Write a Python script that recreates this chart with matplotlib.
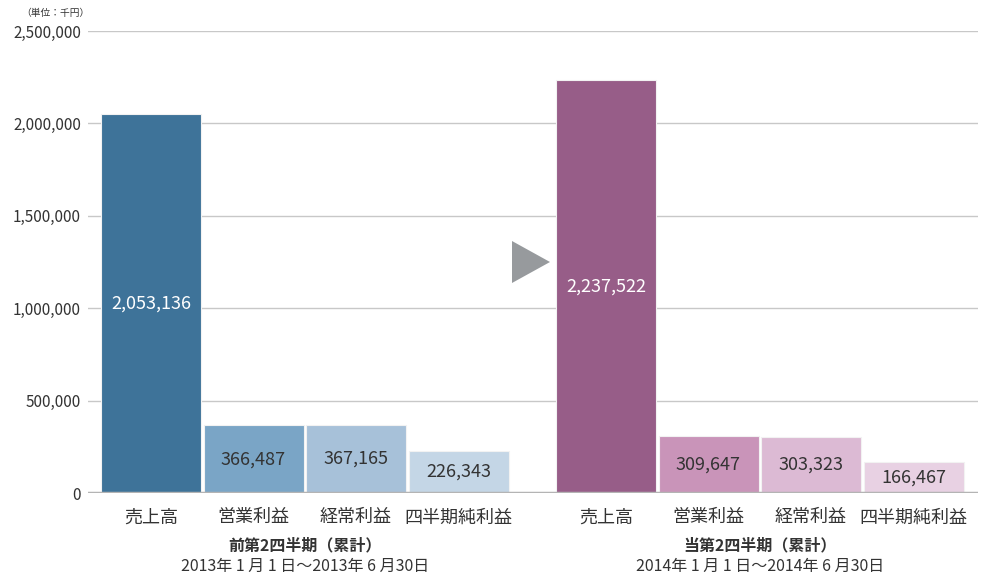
import matplotlib
matplotlib.use("Agg")
import matplotlib.pyplot as plt
from matplotlib.patches import Polygon
from matplotlib.transforms import blended_transform_factory

plt.rcParams['font.family'] = ['Noto Sans CJK JP', 'DejaVu Sans']

categories = ["売上高", "営業利益", "経常利益", "四半期純利益"]
prev_values = [2053136, 366487, 367165, 226343]
curr_values = [2237522, 309647, 303323, 166467]
prev_labels = ["2,053,136", "366,487", "367,165", "226,343"]
curr_labels = ["2,237,522", "309,647", "303,323", "166,467"]
prev_title = "前第2四半期（累計）"
prev_period = "2013年 1 月 1 日～2013年 6 月30日"
curr_title = "当第2四半期（累計）"
curr_period = "2014年 1 月 1 日～2014年 6 月30日"
yticks = [0, 500000, 1000000, 1500000, 2000000, 2500000]
ytick_labels = ["0", "500,000", "1,000,000", "1,500,000", "2,000,000", "2,500,000"]
unit_label = "（単位：千円）"

prev_colors = ["#3e7399", "#7aa5c6", "#a7c1d9", "#c4d6e6"]
curr_colors = ["#975d88", "#c994b9", "#dcbad4", "#e8d1e3"]
text_dark = "#333333"

fig = plt.figure(figsize=(9.85, 5.76), dpi=100)
ax = fig.add_axes([88/985, 1-493/576, (978-88)/985, (493-31)/576])

unit = 102.5
pos_prev = [0, 1, 2, 3]
offset = (606-151)/unit
pos_curr = [p + offset for p in pos_prev]
width = 100/unit

ax.set_xlim((88-151)/unit, (978-151)/unit)
ax.set_ylim(0, 2500000)

for y in yticks[1:]:
    ax.axhline(y, color="#c8c8c8", lw=1.0, zorder=0)

for pos, vals, cols, labs in [(pos_prev, prev_values, prev_colors, prev_labels),
                              (pos_curr, curr_values, curr_colors, curr_labels)]:
    bars = ax.bar(pos, vals, width=width, color=cols, edgecolor="#f2f2f2", linewidth=0.8, zorder=2)
    for i, (b, v, l) in enumerate(zip(bars, vals, labs)):
        c = "white" if i == 0 else text_dark
        ax.text(b.get_x() + b.get_width()/2, v/2, l, ha="center", va="center",
                fontsize=13, color=c, zorder=3)

ax.axhline(0, color="#b4b4b4", lw=2.5, zorder=4)

ax.set_yticks(yticks)
ax.set_yticklabels(ytick_labels, fontsize=11, color=text_dark)
ax.tick_params(axis="y", length=0, pad=5)
ax.set_xticks(pos_prev + pos_curr)
ax.set_xticklabels(categories + categories, fontsize=13, color=text_dark)
ax.tick_params(axis="x", length=0, pad=11)
for s in ax.spines.values():
    s.set_visible(False)

tr = blended_transform_factory(ax.transData, fig.transFigure)
cx_prev = (pos_prev[0] + pos_prev[-1]) / 2
cx_curr = (pos_curr[0] + pos_curr[-1]) / 2
ax.text(cx_prev, 1-545/576, prev_title, transform=tr, ha="center", va="center",
        fontsize=11.5, fontweight="bold", color=text_dark)
ax.text(cx_prev, 1-566/576, prev_period, transform=tr, ha="center", va="center",
        fontsize=11.5, color=text_dark)
ax.text(cx_curr, 1-545/576, curr_title, transform=tr, ha="center", va="center",
        fontsize=11.5, fontweight="bold", color=text_dark)
ax.text(cx_curr, 1-566/576, curr_period, transform=tr, ha="center", va="center",
        fontsize=11.5, color=text_dark)

fig.text(21/985, 1-13/576, unit_label, fontsize=7, color=text_dark, ha="left", va="center")

tri = Polygon([[512/985, 1-241/576], [512/985, 1-283/576], [550/985, 1-262/576]],
              closed=True, transform=fig.transFigure, facecolor="#979a9d", edgecolor="none")
fig.patches.append(tri)

fig.savefig("out.png", dpi=100)
